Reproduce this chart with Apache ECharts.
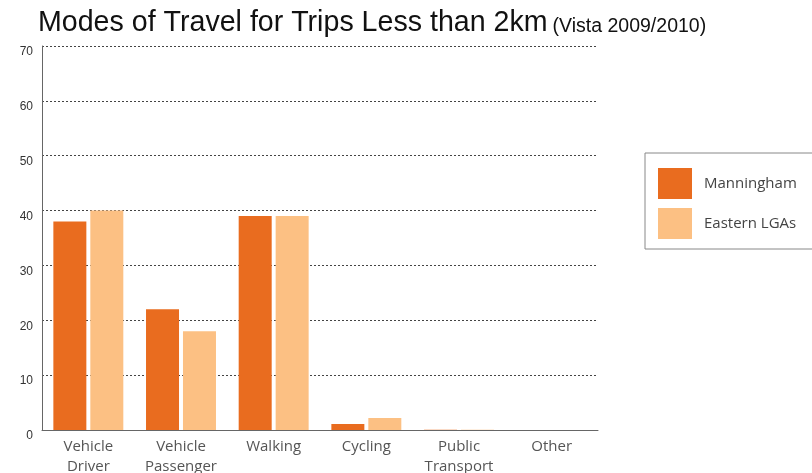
<!DOCTYPE html>
<html><head><meta charset="utf-8">
<script src="https://cdn.jsdelivr.net/npm/echarts@6/dist/echarts.min.js"></script>
<style>html,body{margin:0;padding:0;background:#fff}#c{width:812px;height:473px}</style>
</head><body><div id="c"></div>
<script>
const categories = ["Vehicle\nDriver", "Vehicle\nPassenger", "Walking", "Cycling", "Public\nTransport", "Other"];
const manningham = [38, 22, 39, 1.1, 0.05, 0];
const easternLGAs = [40, 18, 39, 2.2, 0.05, 0];
const seriesNames = ["Manningham", "Eastern LGAs"];
const yTicks = { min: 0, max: 70, interval: 10 };

const chart = echarts.init(document.getElementById('c'), null, { renderer: 'canvas' });
chart.setOption({
  animation: false,
  backgroundColor: '#fff',
  title: {
    text: '{a|Modes of Travel for Trips Less than 2km} {b|(Vista 2009/2010)}',
    left: 33, top: 4,
    textStyle: {
      rich: {
        a: { fontFamily: 'Liberation Sans, Arial', fontWeight: 'normal', fontSize: 28.6, color: '#111' },
        b: { fontFamily: 'Liberation Sans, Arial', fontWeight: 'normal', fontSize: 19.5, color: '#111', padding: [6, 0, 0, 0] }
      }
    }
  },
  legend: {
    orient: 'vertical',
    left: 645, top: 153,
    padding: [15, 60, 10, 13],
    borderColor: '#888', borderWidth: 1,
    itemWidth: 34, itemHeight: 31, itemGap: 9,
    icon: 'rect',
    textStyle: { fontFamily: 'Open Sans', fontSize: 15, color: '#444', padding: [0, 0, 0, 7] },
    data: seriesNames
  },
  grid: { left: 42, right: 214, top: 46, bottom: 43, outerBoundsMode: 'none', containLabel: false },
  xAxis: {
    type: 'category',
    data: categories,
    axisLine: { lineStyle: { color: '#666', width: 1 } },
    axisTick: { inside: true, length: 9, lineStyle: { color: '#666' } },
    axisLabel: { fontFamily: 'Open Sans', fontSize: 15, color: '#555', lineHeight: 20, margin: 7, interval: 0 }
  },
  yAxis: {
    type: 'value',
    min: yTicks.min, max: yTicks.max, interval: yTicks.interval,
    axisLine: { show: true, lineStyle: { color: '#666', width: 1 } },
    axisTick: { show: false },
    axisLabel: { fontFamily: 'Liberation Sans, Arial', fontSize: 12, color: '#333', margin: 9, verticalAlign: 'top' },
    splitLine: { lineStyle: { color: '#444', type: [2, 2], width: 1 } }
  },
  series: [
    { name: seriesNames[0], type: 'bar', data: manningham, barWidth: 33, barGap: '12%', itemStyle: { color: '#E96C1F' } },
    { name: seriesNames[1], type: 'bar', data: easternLGAs, barWidth: 33, itemStyle: { color: '#FCC083' } }
  ]
});
</script></body></html>
